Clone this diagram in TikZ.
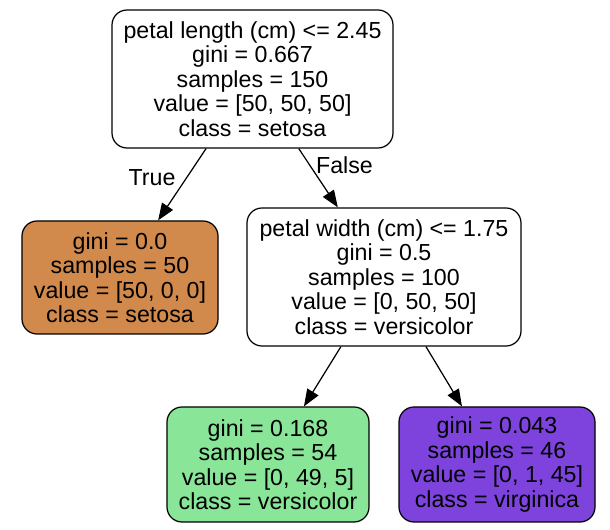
\documentclass[tikz,border=0pt]{standalone}
\usepackage{fontspec}
\setmainfont{Liberation Sans}
\usepackage{tikz}
\usetikzlibrary{shapes,arrows.meta,positioning}
\definecolor{setosacol}{HTML}{D1894C}
\definecolor{versicolorcol}{HTML}{89E597}
\definecolor{virginicacol}{HTML}{7D43DC}
\tikzset{
  treenode/.style={
    rectangle,
    rounded corners=0.3cm,
    draw=black, line width=0.7pt,
    align=center,
    inner sep=0pt,
    text centered
  },
  splitnode/.style={treenode, minimum width=5.55cm, minimum height=2.76cm},
  leafnode/.style={treenode, minimum width=3.95cm, minimum height=2.28cm},
}

\begin{document}
\begin{tikzpicture}[auto,font=\fontsize{13.2}{13.95}\selectfont]
      \useasboundingbox (0,0) rectangle (12.2,-10.6);

      \node[splitnode, minimum width=5.62cm] (root) at (5.05,-1.58)
        {petal length (cm) <= 2.45\\ gini = 0.667\\ samples = 150\\ value = [50, 50, 50]\\ class = setosa};
      \node[leafnode, fill=setosacol, minimum width=3.92cm, minimum height=2.26cm] (setosa) at (2.4,-5.55)
        {gini = 0.0\\ samples = 50\\ value = [50, 0, 0]\\ class = setosa};
      \node[splitnode, minimum width=5.48cm] (width) at (7.68,-5.54)
        {petal width (cm) <= 1.75\\ gini = 0.5\\ samples = 100\\ value = [0, 50, 50]\\ class = versicolor};
      \node[leafnode, fill=versicolorcol, minimum width=4.04cm, minimum height=2.3cm] (versicolor) at (5.36,-9.29)
        {gini = 0.168\\ samples = 54\\ value = [0, 49, 5]\\ class = versicolor};
      \node[leafnode, fill=virginicacol, minimum width=3.92cm, minimum height=2.3cm] (virginica) at (9.94,-9.29)
        {gini = 0.043\\ samples = 46\\ value = [0, 1, 45]\\ class = virginica};

      \path[->,line width=0.7pt,>={Triangle[length=0.34cm,width=0.26cm]}]
      (root) edge node[pos=0.4,left=0.1cm,swap]{True} (setosa)
      (root) edge node[pos=0.28,right]{False} (width)
      (width) edge (versicolor)
      (width) edge (virginica);
    \end{tikzpicture}
\end{document}
